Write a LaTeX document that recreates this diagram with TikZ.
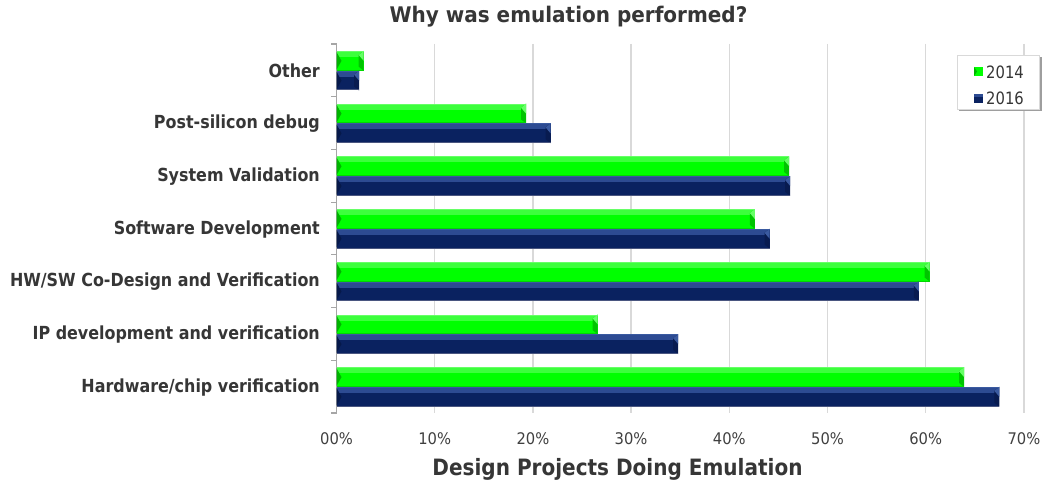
\documentclass[tikz,border=0pt]{standalone}
\usepackage{fontspec}
\setmainfont{DejaVu Sans}
\newfontfamily\labfont[FakeStretch=0.885]{DejaVu Sans}
\newfontfamily\titfont[FakeStretch=0.93]{DejaVu Sans}
\newfontfamily\axtfont[FakeStretch=0.89]{DejaVu Sans}
\newfontfamily\tickfont[FakeStretch=0.92]{DejaVu Sans}
\newfontfamily\legfont[FakeStretch=0.87]{DejaVu Sans}
\definecolor{txt}{HTML}{363636}
\definecolor{tick}{HTML}{404040}
\definecolor{grid}{HTML}{D9D9D9}
\definecolor{axis}{HTML}{A6A6A6}
\definecolor{gmain}{HTML}{00FF00}
\definecolor{gtop}{HTML}{3CFF3C}
\definecolor{gleft}{HTML}{00B400}
\definecolor{gright}{HTML}{00C400}
\definecolor{gedge}{HTML}{66FF66}
\definecolor{gbot}{HTML}{00D800}
\definecolor{bmain}{HTML}{0A2260}
\definecolor{btop}{HTML}{2D4B92}
\definecolor{bleft}{HTML}{06194A}
\definecolor{bright}{HTML}{081B50}
\definecolor{bedge}{HTML}{3A5AA0}
\definecolor{bbot}{HTML}{4A5680}
\newcommand\chartbar[4]{% #1 top, #2 value, #3 height, #4 series prefix
  \pgfmathsetmacro\xa{336.5}
  \pgfmathsetmacro\xb{336.5+9.82*#2}
  \pgfmathsetmacro\ya{#1}
  \pgfmathsetmacro\yb{#1+#3}
  \pgfmathsetmacro\ym{(#1+#1+#3)/2}
  \fill[#4main] (\xa,\ya) rectangle (\xb,\yb);
  \fill[#4top] (\xa,\ya) rectangle (\xb,{\ya+6});
  \fill[#4left] (\xa,{\ya+1}) -- ({\xa+5},{\ym}) -- (\xa,{\yb-1}) -- cycle;
  \fill[#4right] ({\xb-5},{\ya+4}) -- (\xb,\ya) -- (\xb,\yb) -- ({\xb-5},{\yb-4}) -- cycle;
  \fill[#4edge] ({\xb-5},{\ya+4}) -- (\xb,\ya) -- (\xb,{\ym}) -- cycle;
  \draw[#4edge,line width=1pt] (\xa,{\ya+0.5}) -- (\xb,{\ya+0.5});
  \draw[#4bot,line width=1pt] (\xa,{\yb-0.5}) -- (\xb,{\yb-0.5});
}
\tikzset{
  catlabel/.style={anchor=east,text=txt,inner sep=0pt,font=\labfont\bfseries\fontsize{18}{21}\selectfont},
  ticklabel/.style={anchor=center,text=tick,inner sep=0pt,font=\tickfont\fontsize{16}{19}\selectfont},
  legtext/.style={anchor=west,text=txt,inner sep=0pt,font=\legfont\fontsize{17}{20}\selectfont},
  gridline/.style={draw=grid,line width=1.5pt},
  axisline/.style={draw=axis,line width=1.2pt},
}
\begin{document}
\begin{tikzpicture}[x=1pt,y=-1pt]
\useasboundingbox (0,0) rectangle (1046,484);
\fill[white] (0,0) rectangle (1046,484);
% gridlines
\foreach \k in {1,...,7}{
  \draw[gridline] ({336.5+98.2*\k},44) -- ({336.5+98.2*\k},413);
}
% axis
\coordinate (axtop) at (336.5,44);
\coordinate (axbot) at (336.5,413);
\draw[axisline] (axtop) -- (axbot);
\foreach \i in {0,...,7}{
  \draw[axisline] (331,{44+52.7*\i}) -- (336.5,{44+52.7*\i});
}
% bars
\foreach \i/\va/\vb in {0/2.77/2.3, 1/19.3/21.8, 2/46.1/46.2, 3/42.6/44.1, 4/60.4/59.3, 5/26.6/34.8, 6/63.9/67.5}{
  \chartbar{44+52.7*\i+7}{\va}{19.7}{g}
  \chartbar{44+52.7*\i+26.7}{\vb}{19.8}{b}
}
% category labels
\node[catlabel] (c0) at (320,71) {Other};
\node[catlabel] (c1) at (320,123.7) {Post-silicon debug};
\node[catlabel] (c2) at (320,176.4) {System Validation};
\node[catlabel] (c3) at (320,229.1) {Software Development};
\node[catlabel] (c4) at (320,281.8) {HW/SW Co-Design and Verification};
\node[catlabel] (c5) at (320,334.5) {IP development and verification};
\node[catlabel] (c6) at (320,387.2) {Hardware/chip verification};
% tick labels
\foreach \k in {0,...,7}{
  \node[ticklabel] (t\k) at ({336.5+98.2*\k},439) {\k0\%};
}
% titles
\node[text=txt,inner sep=0pt,font=\titfont\bfseries\fontsize{21.5}{25}\selectfont] (title) at (568.5,17) {Why was emulation performed?};
\node[text=txt,inner sep=0pt,font=\axtfont\bfseries\fontsize{22.5}{26}\selectfont] (xtitle) at (617.5,469) {Design Projects Doing Emulation};
% legend
\fill[black!38] (959,57) rectangle (1041.5,111.5);
\node[draw=black!15,fill=white,line width=0.6pt,minimum width=82pt,minimum height=54pt,inner sep=0pt] (legend) at (998.5,82) {};
\fill[gmain] (974,67) rectangle (983,76);
\fill[gleft] (974,67) -- (977,71.5) -- (974,76) -- cycle;
\fill[bmain] (974,94) rectangle (983,103);
\fill[btop] (974,94) rectangle (983,97);
\node[legtext] (l2014) at (986,72) {2014};
\node[legtext] (l2016) at (986,98.5) {2016};
\end{tikzpicture}
\end{document}
